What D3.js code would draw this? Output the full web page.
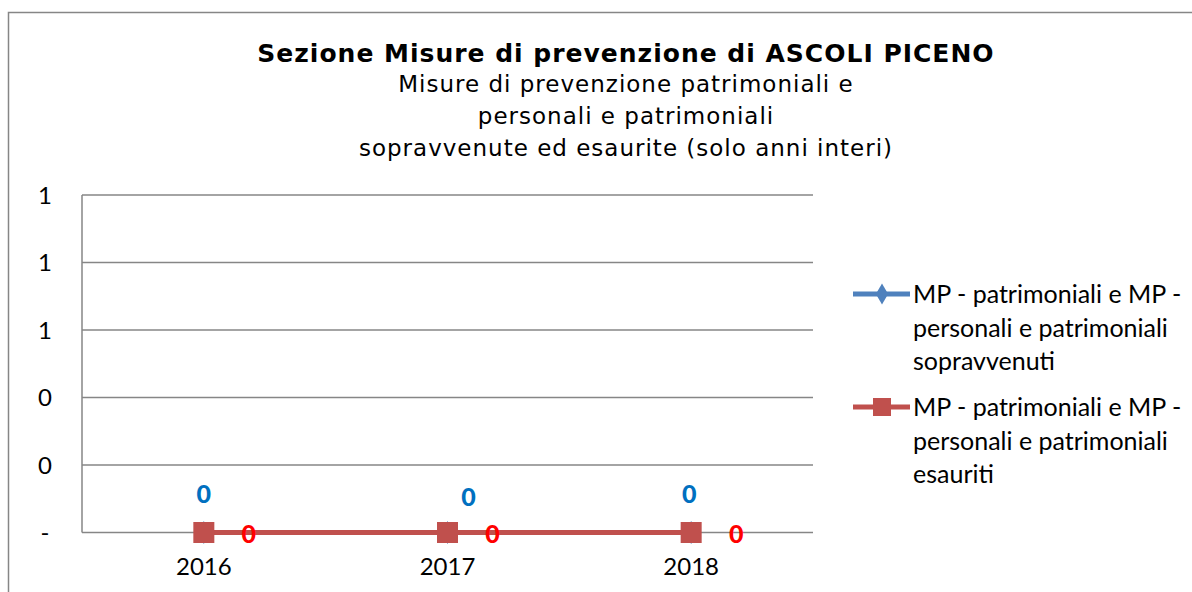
<!DOCTYPE html>
<html>
<head>
<meta charset="utf-8">
<script src="https://cdn.jsdelivr.net/npm/d3@7"></script>
<style>
  body { margin: 0; background: #fff; }
  svg { display: block; }
</style>
</head>
<body>
<svg id="chart" width="1192" height="592"></svg>
<script>
// data
const years = ['2016', '2017', '2018'];
const sopravvenuti = [0, 0, 0];
const esauriti = [0, 0, 0];
const yTicks = [0, 0.2, 0.4, 0.6, 0.8, 1];
const titleText = 'Sezione Misure di prevenzione di ASCOLI PICENO';
const subtitleLines = [
  'Misure di prevenzione patrimoniali e',
  'personali e patrimoniali',
  'sopravvenute ed esaurite (solo anni interi)'
];
const legendBlue = ['MP - patrimoniali e MP -', 'personali e patrimoniali', 'sopravvenuti'];
const legendRed = ['MP - patrimoniali e MP -', 'personali e patrimoniali', 'esauriti'];

const svg = d3.select('#chart');
const labelFont = 'Lato, "Open Sans", sans-serif';
const titleFont = '"DejaVu Sans", Verdana, sans-serif';

// outer chart border
svg.append('rect')
  .attr('x', 8.5).attr('y', 12.5)
  .attr('width', 1200).attr('height', 600)
  .attr('fill', 'none').attr('stroke', '#868686').attr('stroke-width', 1.5);

// title
svg.append('text')
  .attr('x', 626).attr('y', 62)
  .attr('text-anchor', 'middle')
  .style('font-family', titleFont).style('font-weight', 'bold').style('font-size', '25px')
  .style('letter-spacing', '1px')
  .text(titleText);

svg.append('g').selectAll('text')
  .data(subtitleLines)
  .enter()
  .append('text')
  .attr('x', 626)
  .attr('y', (d, i) => 92 + i * 32)
  .attr('text-anchor', 'middle')
  .style('font-family', titleFont).style('font-size', '23px')
  .style('letter-spacing', '1px')
  .text(d => d);

// plot area
const plotLeft = 82, plotRight = 813, plotTop = 195, plotBottom = 532.5;

const x = d3.scaleBand().domain(years).range([plotLeft, plotRight]);
const y = d3.scaleLinear().domain([0, 1]).range([plotBottom, plotTop]);

// gridlines
svg.append('g')
  .selectAll('line')
  .data(yTicks)
  .enter()
  .append('line')
  .attr('x1', plotLeft).attr('x2', plotRight)
  .attr('y1', d => y(d)).attr('y2', d => y(d))
  .attr('stroke', '#868686').attr('stroke-width', 1.5);

// y axis line
svg.append('line')
  .attr('x1', plotLeft).attr('x2', plotLeft)
  .attr('y1', plotTop).attr('y2', plotBottom)
  .attr('stroke', '#868686').attr('stroke-width', 1.5);

// y tick labels (rounded to integer, zero shown as dash)
const yFmt = v => v === 0 ? '-' : d3.format('.0f')(v);
svg.append('g')
  .selectAll('text')
  .data(yTicks)
  .enter()
  .append('text')
  .attr('x', 45).attr('y', d => y(d) + 8.5)
  .attr('text-anchor', 'middle')
  .style('font-family', labelFont).style('font-size', '24px')
  .text(yFmt);

// x tick labels
svg.append('g')
  .selectAll('text')
  .data(years)
  .enter()
  .append('text')
  .attr('x', d => x(d) + x.bandwidth() / 2)
  .attr('y', 575)
  .attr('text-anchor', 'middle')
  .style('font-family', labelFont).style('font-size', '24px')
  .text(d => d);

const cx = (d, i) => x(years[i]) + x.bandwidth() / 2;

const line = d3.line()
  .x((d, i) => cx(d, i))
  .y(d => y(d));

// blue series (sopravvenuti), hidden underneath the red one
svg.append('path')
  .datum(sopravvenuti)
  .attr('d', line)
  .attr('fill', 'none').attr('stroke', '#4F81BD').attr('stroke-width', 5);

svg.append('g')
  .selectAll('path')
  .data(sopravvenuti)
  .enter()
  .append('path')
  .attr('d', d3.symbol(d3.symbolDiamond, 150))
  .attr('transform', (d, i) => `translate(${cx(d, i)},${y(d)})`)
  .attr('fill', '#4F81BD');

// red series (esauriti)
svg.append('path')
  .datum(esauriti)
  .attr('d', line)
  .attr('fill', 'none').attr('stroke', '#C0504D').attr('stroke-width', 5);

svg.append('g')
  .selectAll('rect')
  .data(esauriti)
  .enter()
  .append('rect')
  .attr('x', (d, i) => cx(d, i) - 10.5)
  .attr('y', d => y(d) - 10.5)
  .attr('width', 21).attr('height', 21)
  .attr('fill', '#C0504D');

// data labels; excel had them nudged slightly
const blueNudge = [[0, -29.5], [21, -26.5], [-2, -29.5]];
svg.append('g')
  .selectAll('text')
  .data(sopravvenuti)
  .enter()
  .append('text')
  .attr('x', (d, i) => cx(d, i) + blueNudge[i][0])
  .attr('y', (d, i) => y(d) + blueNudge[i][1])
  .attr('text-anchor', 'middle')
  .style('font-family', labelFont).style('font-weight', '900').style('font-size', '25px')
  .attr('fill', '#0070C0')
  .text(d => d);

svg.append('g')
  .selectAll('text')
  .data(esauriti)
  .enter()
  .append('text')
  .attr('x', (d, i) => cx(d, i) + 45)
  .attr('y', d => y(d) + 10.5)
  .attr('text-anchor', 'middle')
  .style('font-family', labelFont).style('font-weight', '900').style('font-size', '25px')
  .attr('fill', '#FF0000')
  .text(d => d);

// legend
const legend = svg.append('g').attr('transform', 'translate(853,0)');
const legendItems = [
  { lines: legendBlue, color: '#4F81BD', marker: 'diamond', rowY: 294 },
  { lines: legendRed, color: '#C0504D', marker: 'square', rowY: 407 }
];
legendItems.forEach(item => {
  const g = legend.append('g');
  g.append('line')
    .attr('x1', 0).attr('x2', 57)
    .attr('y1', item.rowY).attr('y2', item.rowY)
    .attr('stroke', item.color).attr('stroke-width', 5);
  if (item.marker === 'diamond') {
    g.append('path')
      .attr('d', d3.symbol(d3.symbolDiamond, 130))
      .attr('transform', `translate(29,${item.rowY})`)
      .attr('fill', item.color);
  } else {
    g.append('rect')
      .attr('x', 20).attr('y', item.rowY - 9)
      .attr('width', 18).attr('height', 18)
      .attr('fill', item.color);
  }
  g.selectAll('text')
    .data(item.lines)
    .enter()
    .append('text')
    .attr('x', 60)
    .attr('y', (d, i) => item.rowY + 9 + i * 33.5)
    .style('font-family', labelFont).style('font-size', '25px')
    .text(d => d);
});
</script>
</body>
</html>
